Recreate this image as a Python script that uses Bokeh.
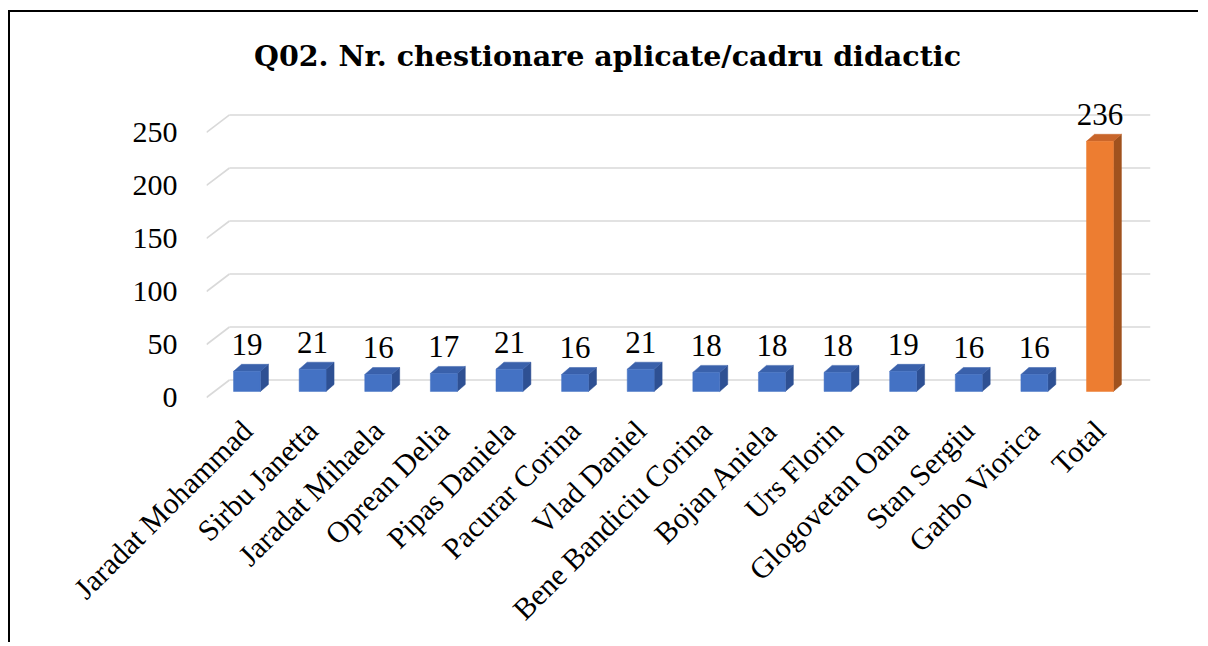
import math
from bokeh.plotting import figure
from bokeh.models import FixedTicker, ColumnDataSource
from bokeh.embed import file_html
from bokeh.resources import INLINE

# ---- data ----
names = ["Jaradat Mohammad", "Sirbu Janetta", "Jaradat Mihaela", "Oprean Delia",
         "Pipas Daniela", "Pacurar Corina", "Vlad Daniel", "Bene Bandiciu Corina",
         "Bojan Aniela", "Urs Florin", "Glogovetan Oana", "Stan Sergiu",
         "Garbo Viorica", "Total"]
values = [19, 21, 16, 17, 21, 16, 21, 18, 18, 18, 19, 16, 16, 236]
y_ticks = [0, 50, 100, 150, 200, 250]
title_text = "Q02. Nr. chestionare aplicate/cadru didactic"

# ---- pseudo-3D geometry (in data units) ----
BAR_W = 0.41           # front face width (category units)
DDX, DDY = 0.122, 6.6  # bar depth offset
BASE = 5.7             # bar floor above the front edge
WDX, WDY = 0.35, 16.5  # back wall offset
X0, X1 = -0.617, 13.77
Y0, Y1 = -2.83, 346.2

FONT = "Liberation Serif"

p = figure(width=1190, height=632, x_range=(X0, X1), y_range=(Y0, Y1),
           output_backend="svg", toolbar_location=None,
           min_border_left=196, min_border_right=50,
           min_border_top=18, min_border_bottom=244)
p.margin = (10, 0, 0, 8)
p.styles = {"border-top": "2px solid black", "border-left": "2px solid black"}
p.outline_line_color = None
p.background_fill_color = "white"
p.border_fill_color = "white"
p.xgrid.visible = False
p.ygrid.visible = False

# back wall gridlines with slanted floor/side edge
gx0 = [X0] * len(y_ticks)
gy0 = list(y_ticks)
gx1 = [X0 + WDX] * len(y_ticks)
gy1 = [t + WDY for t in y_ticks]
p.segment(x0=gx0, y0=gy0, x1=gx1, y1=gy1, line_color="#D9D9D9", line_width=1.6)
p.segment(x0=gx1, y0=gy1, x1=[X1] * len(y_ticks), y1=gy1,
          line_color="#D9D9D9", line_width=1.6)

# bars
xs = list(range(len(names)))
front_c = ["#ED7D31" if n == "Total" else "#4472C4" for n in names]
side_c = ["#A0521E" if n == "Total" else "#2E5093" for n in names]
top_c = ["#C8652A" if n == "Total" else "#3A61AB" for n in names]

side_xs, side_ys, top_xs, top_ys = [], [], [], []
for c, v in zip(xs, values):
    r = c + BAR_W / 2
    l = c - BAR_W / 2
    side_xs.append([r, r + DDX, r + DDX, r])
    side_ys.append([BASE, BASE + DDY, BASE + v + DDY, BASE + v])
    top_xs.append([l, l + DDX, r + DDX, r])
    top_ys.append([BASE + v, BASE + v + DDY, BASE + v + DDY, BASE + v])

p.patches(xs=side_xs, ys=side_ys, fill_color=side_c, line_color=side_c, line_width=0.5)
p.patches(xs=top_xs, ys=top_ys, fill_color=top_c, line_color=top_c, line_width=0.5)
p.quad(left=[c - BAR_W / 2 for c in xs], right=[c + BAR_W / 2 for c in xs],
       bottom=[BASE] * len(xs), top=[BASE + v for v in values],
       fill_color=front_c, line_color=front_c, line_width=0.5)

# value labels
src = ColumnDataSource(dict(x=xs, y=[BASE + v + DDY + 19.0 for v in values],
                            t=[str(v) for v in values]))
p.text(x="x", y="y", text="t", source=src, text_align="center",
       text_baseline="alphabetic", text_font_size="31px", text_color="black",
       text_font={"value": FONT})

# title (inside the frame, above the plot area)
p.text(x=[5.495], y=[322.0], text=[title_text], text_align="center",
       text_baseline="alphabetic", text_font_size="28.5px", text_font_style="bold",
       text_color="black", text_font={"value": "DejaVu Serif"})

# axes
p.yaxis.ticker = FixedTicker(ticks=y_ticks)
p.yaxis.axis_line_color = None
p.yaxis.major_tick_line_color = None
p.yaxis.minor_tick_line_color = None
p.yaxis.major_label_standoff = 23
p.yaxis.major_label_text_font = FONT
p.yaxis.major_label_text_font_size = "30px"
p.yaxis.major_label_text_color = "black"

p.xaxis.ticker = FixedTicker(ticks=xs)
p.xaxis.major_label_overrides = {i: n for i, n in enumerate(names)}
p.xaxis.major_label_orientation = math.pi / 4
p.xaxis.axis_line_color = None
p.xaxis.major_tick_line_color = None
p.xaxis.minor_tick_line_color = None
p.xaxis.major_label_standoff = 19
p.xaxis.major_label_text_font = FONT
p.xaxis.major_label_text_font_size = "30px"
p.xaxis.major_label_text_color = "black"

open("out.html", "w").write(file_html(p, INLINE))
